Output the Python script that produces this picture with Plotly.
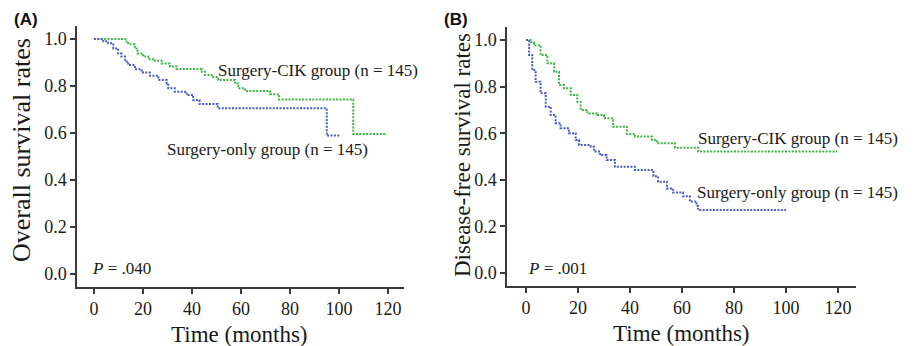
import plotly.graph_objects as go

# ---------------- data ----------------
# Panel A: overall survival
cik_a_t = [0, 13.3, 14.0, 16.7, 17.8, 20.1, 22.2, 24.9, 27.6, 31.0, 33.7, 44.0, 45.3, 48.0, 50.7, 57.6, 58.9, 61.6, 71.8, 75.5, 105.8, 119.5]
cik_a_s = [1.0, 0.989, 0.978, 0.96, 0.938, 0.925, 0.914, 0.907, 0.896, 0.883, 0.872, 0.861, 0.847, 0.838, 0.826, 0.811, 0.79, 0.779, 0.765, 0.743, 0.596, 0.596]
only_a_t = [0, 3.8, 5.8, 7.9, 9.9, 11.2, 12.7, 14.0, 16.7, 19.5, 22.9, 26.3, 29.7, 30.3, 33.0, 37.8, 40.5, 43.1, 50.5, 95.0, 100.4]
only_a_s = [1.0, 0.99, 0.982, 0.96, 0.938, 0.925, 0.904, 0.889, 0.871, 0.857, 0.844, 0.826, 0.811, 0.79, 0.776, 0.762, 0.74, 0.723, 0.705, 0.589, 0.589]

# Panel B: disease-free survival
cik_b_t = [0, 1.8, 3.1, 5.6, 8.2, 10.8, 12.7, 14.6, 17.2, 19.7, 21.0, 23.6, 27.4, 30.0, 33.5, 38.8, 41.9, 48.4, 50.4, 57.3, 66.2, 119.6]
cik_b_s = [1.0, 0.99, 0.978, 0.936, 0.90, 0.864, 0.807, 0.793, 0.764, 0.735, 0.70, 0.685, 0.678, 0.664, 0.628, 0.597, 0.586, 0.571, 0.557, 0.538, 0.521, 0.521]
only_b_t = [0, 1.2, 2.4, 3.7, 5.6, 7.6, 9.5, 11.4, 13.3, 16.5, 19.1, 20.4, 24.9, 26.2, 28.5, 31.0, 34.2, 41.9, 49.0, 50.8, 54.2, 56.5, 60.4, 63.0, 65.6, 66.2, 100.0]
only_b_s = [1.0, 0.936, 0.871, 0.821, 0.771, 0.714, 0.678, 0.643, 0.621, 0.60, 0.571, 0.549, 0.542, 0.521, 0.506, 0.485, 0.456, 0.442, 0.415, 0.392, 0.363, 0.345, 0.329, 0.307, 0.288, 0.27, 0.27]

x_ticks = [0, 20, 40, 60, 80, 100, 120]
y_ticks = [0.0, 0.2, 0.4, 0.6, 0.8, 1.0]

label_cik = "Surgery-CIK group (n = 145)"
label_only = "Surgery-only group (n = 145)"
p_a = "<i>P</i> = .040"
p_b = "<i>P</i> = .001"

# ---------------- figure ----------------
OFF = 8  # page body margin offset
W, H = 914 - OFF, 346 - OFF
GREEN = "#3fb548"
BLUE = "#4a5cc4"
DASH = "2px,1.4px"
SERIF = "Liberation Serif"
AX = "#3a3a3a"

def px_x(p):
    return (p - OFF) / W

def px_y(p):
    return 1 - (p - OFF) / H

fig = go.Figure()
for t, s, c, xa, ya in [
    (cik_a_t, cik_a_s, GREEN, "x", "y"),
    (only_a_t, only_a_s, BLUE, "x", "y"),
    (cik_b_t, cik_b_s, GREEN, "x2", "y2"),
    (only_b_t, only_b_s, BLUE, "x2", "y2"),
]:
    fig.add_trace(go.Scatter(x=t, y=s, mode="lines", line=dict(color=c, width=2, dash=DASH, shape="hv"),
                             xaxis=xa, yaxis=ya, showlegend=False, hoverinfo="skip"))

axis_common = dict(showline=True, linecolor=AX, linewidth=1.5, showgrid=False, zeroline=False,
                   ticks="outside", ticklen=5, tickwidth=1.5, tickcolor=AX,
                   tickfont=dict(family=SERIF, size=18, color="#1a1a1a"))

fig.update_layout(
    width=W, height=H, margin=dict(l=0, r=0, t=0, b=0),
    paper_bgcolor="white", plot_bgcolor="white",
    xaxis=dict(domain=[px_x(77), px_x(404)], range=[-6.9, 126.5], tickvals=x_ticks, anchor="y", **axis_common),
    yaxis=dict(domain=[px_y(287), px_y(26)], range=[-0.0553, 1.0553], tickvals=y_ticks, tickformat=".1f", anchor="x", **axis_common),
    xaxis2=dict(domain=[px_x(507), px_x(856)], range=[-7.3, 126.9], tickvals=x_ticks, anchor="y2", **axis_common),
    yaxis2=dict(domain=[px_y(286), px_y(27)], range=[-0.0558, 1.0558], tickvals=y_ticks, tickformat=".1f", anchor="x2", **axis_common),
)

def ann(text, x, y, size, xanchor="left", angle=0, family=SERIF, bold=False, color="#1a1a1a"):
    fig.add_annotation(text=f"<b>{text}</b>" if bold else text, x=px_x(x), y=px_y(y), xref="paper", yref="paper",
                       xanchor=xanchor, yanchor="middle", showarrow=False, textangle=angle,
                       font=dict(family=family, size=size, color=color))

ann("(A)", 12, 20, 17, family="Liberation Sans", bold=True, color="#111")
ann("(B)", 442, 20, 17, family="Liberation Sans", bold=True, color="#111")

ann(label_cik, 216, 70, 17)
ann(label_only, 165, 150, 17)
ann(p_a, 90, 268, 17)

ann(label_cik, 696, 138, 17)
ann(label_only, 695, 192, 17)
ann(p_b, 526, 268, 17)

ann("Time (months)", 240, 334, 23, xanchor="center")
ann("Time (months)", 681, 333, 23, xanchor="center")
ann("Overall survival rates", 22, 150, 26, xanchor="center", angle=-90)
ann("Disease-free survival rates", 462, 155, 23, xanchor="center", angle=-90)

fig.write_html("out.html")
